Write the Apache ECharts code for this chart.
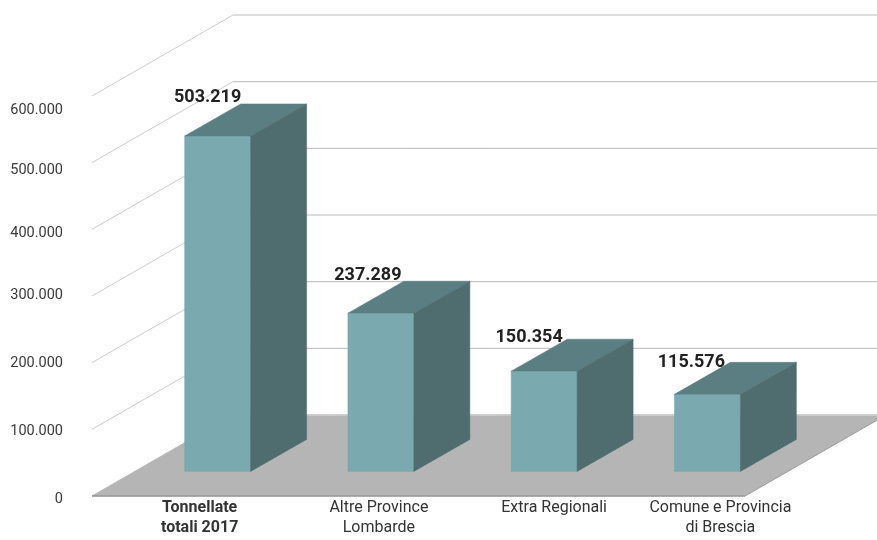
<!DOCTYPE html>
<html>
<head>
<meta charset="utf-8">
<style>html,body{margin:0;padding:0;background:#fff}#c{width:877px;height:540px}</style>
<script src="https://cdn.jsdelivr.net/npm/echarts@6/dist/echarts.min.js"></script>
</head>
<body>
<div id="c"></div>
<script>
var categories = ['Tonnellate\ntotali 2017', 'Altre Province\nLombarde', 'Extra Regionali', 'Comune e Provincia\ndi Brescia'];
var values = [503219, 237289, 150354, 115576];
var valueTicks = [0, 100000, 200000, 300000, 400000, 500000, 600000];
var valueTickLabels = ['0', '100.000', '200.000', '300.000', '400.000', '500.000', '600.000'];

// Layout: oblique projection and the reference's hand-placed label offsets
var WALL = [141, -81], INSET = [44, -24.6], DEPTH = [56, -32], BAR_RATIO = 0.404;
var TICK_NUDGE = [3, 2, 1, -1, 4, 8, 14];
var CAT_NUDGE = [26, 42, 54, 57];
var VALUE_NUDGE = [-10, -13, -15, -16];
var VALUE_NUDGE_Y = [2, 2, 6, 8];
var FONT = 'Roboto, sans-serif';

function poly(points, fill, z) {
  return { type: 'polygon', z2: z || 0, shape: { points: points }, style: { fill: fill, stroke: fill, lineWidth: 0.5 } };
}
function line(x1, y1, x2, y2, color, w) {
  return { type: 'line', shape: { x1: x1, y1: y1, x2: x2, y2: y2 }, style: { stroke: color, lineWidth: w, fill: null } };
}

var chart = echarts.init(document.getElementById('c'), null, { renderer: 'canvas' });
chart.setOption({
  animation: false,
  backgroundColor: '#fff',
  grid: { left: 92, top: 96, width: 653, height: 400 },
  xAxis: { type: 'category', data: categories, show: false },
  yAxis: { type: 'value', min: 0, max: 600000, interval: 100000, show: false },
  series: [
    {
      type: 'custom', coordinateSystem: 'cartesian2d', silent: true, clip: false, z: 1,
      data: valueTicks.map(function (v, i) { return [0, v, i]; }),
      renderItem: function (params, api) {
        var cs = params.coordSys, y = api.coord([0, api.value(1)])[1], i = api.value(2);
        var top = i === valueTicks.length - 1;
        var bx = cs.x + WALL[0], by = y + WALL[1];
        var kids = [
          line(cs.x, y, bx, by, '#cdcdcd', 1),
          line(bx, by, 877, by, top ? '#dedede' : '#b9b9b9', top ? 2 : 1),
          { type: 'text', style: { text: valueTickLabels[i], x: 63, y: y + TICK_NUDGE[i], align: 'right', verticalAlign: 'middle', fill: '#3a3a3a', font: '14.5px ' + FONT } }
        ];
        return { type: 'group', children: kids };
      }
    },
    {
      type: 'custom', coordinateSystem: 'cartesian2d', silent: true, clip: false, z: 2,
      data: [[0, 0]],
      renderItem: function (params, api) {
        var cs = params.coordSys, y = api.coord([0, 0])[1], x2 = cs.x + cs.width;
        return { type: 'group', children: [
          poly([[cs.x, y], [x2, y], [x2 + WALL[0], y + WALL[1]], [cs.x + WALL[0], y + WALL[1]]], '#b5b5b5'),
          line(cs.x, y, x2, y, '#969696', 1.5),
          line(x2, y, x2 + WALL[0], y + WALL[1], '#a0a0a0', 1),
          line(cs.x + WALL[0], y + WALL[1], 877, y + WALL[1], '#cfcfcf', 1.5)
        ] };
      }
    },
    {
      type: 'custom', coordinateSystem: 'cartesian2d', silent: true, clip: false, z: 3,
      data: values.map(function (v, i) { return [i, v]; }),
      renderItem: function (params, api) {
        var i = api.value(0), val = api.value(1);
        var base = api.coord([i, 0]), top = api.coord([i, val]);
        var w = api.size([1, 0])[0] * BAR_RATIO;
        var l = base[0] - w / 2 + INSET[0], r = l + w;
        var b = base[1] + INSET[1], t = top[1] + INSET[1];
        var dx = DEPTH[0], dy = DEPTH[1];
        return { type: 'group', children: [
          poly([[l, b], [r, b], [r, t], [l, t]], '#7aa9af'),
          poly([[l, t], [r, t], [r + dx, t + dy], [l + dx, t + dy]], '#5a7e82'),
          poly([[r, b], [r + dx, b + dy], [r + dx, t + dy], [r, t]], '#4f6c6e'),
          { type: 'text', z2: 5, style: { text: String(val).replace(/(\d)(?=\d{3}$)/, '$1.'), x: (l + r) / 2 + VALUE_NUDGE[i], y: t + dy - 8 + VALUE_NUDGE_Y[i], align: 'center', verticalAlign: 'middle', fill: '#222', font: 'bold 18px ' + FONT } },
          { type: 'text', style: { text: categories[i], x: base[0] + CAT_NUDGE[i], y: base[1] + 2, align: 'center', verticalAlign: 'top', lineHeight: 20, fill: '#333', font: (i === 0 ? 'bold ' : '') + '16px ' + FONT } }
        ] };
      }
    }
  ]
});
</script>
</body>
</html>
